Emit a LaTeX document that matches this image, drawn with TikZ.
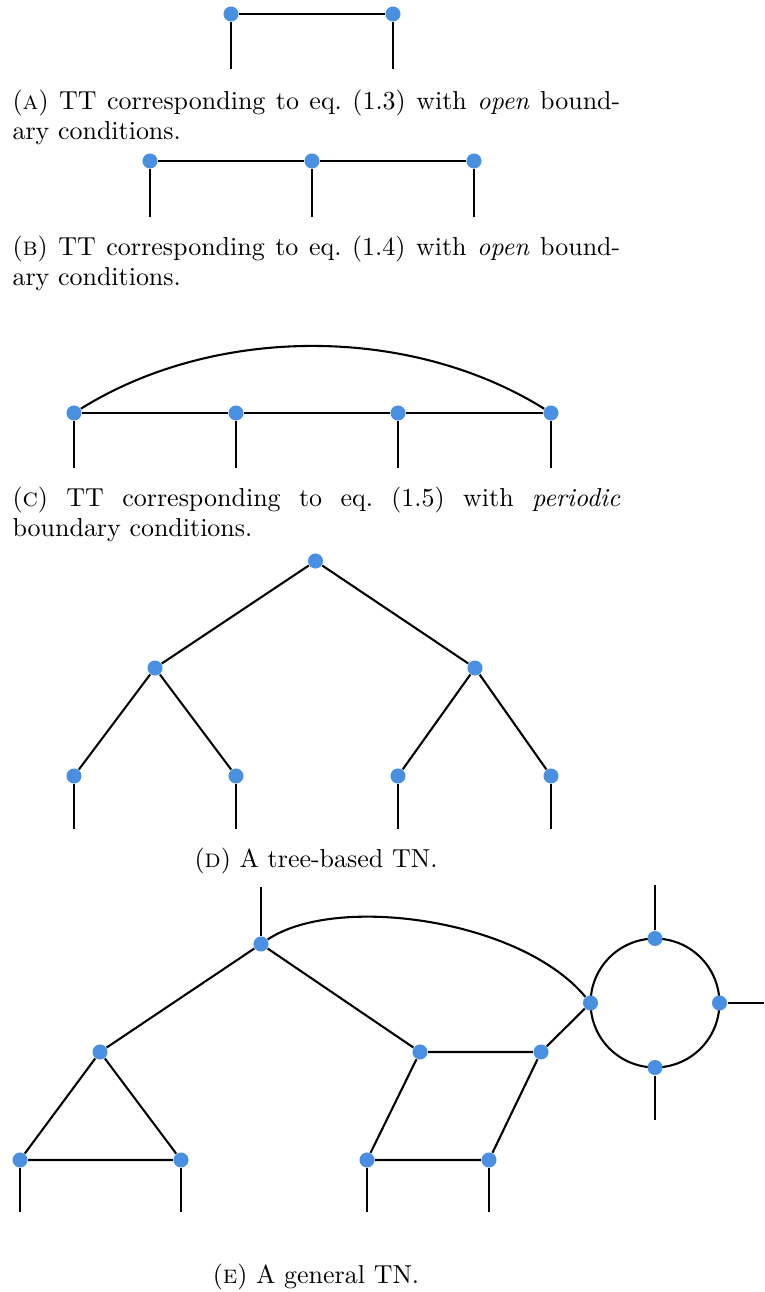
\documentclass[tikz,border=0pt]{standalone}
\usepackage{xcolor}
\definecolor{tnblue}{HTML}{4A90E2}

\begin{document}
\begin{tikzpicture}[
  x=0.385pt,
  y=-0.385pt,
  every node/.style={font=\fontsize{10pt}{11.35pt}\selectfont},
  site/.style={circle, fill=tnblue, inner sep=0pt, minimum size=5.8pt},
  bond/.style={black, line width=0.8pt},
  caption/.style={anchor=base west, inner sep=0pt},
  midcaption/.style={anchor=base, inner sep=0pt}
]
  \useasboundingbox (0,0) rectangle (764,1292);

  % ---- (a) two sites --------------------------------------------------
  \foreach \n/\x in {a1/231, a2/393} {
    \node[site] (\n) at (\x,14) {};
    \coordinate (\n o) at (\x,69);
    \draw[bond] (\n) -- (\n o);
  }
  \draw[bond] (a1) -- (a2);
  \node[caption] (capa) at (12,110)
    {\parbox[t]{234pt}{(\textsc{a}) TT corresponding to eq.~(1.3) with
     \emph{open} bound-\linebreak ary conditions.}};

  % ---- (b) three sites ------------------------------------------------
  \foreach \n/\x in {b1/150, b2/312, b3/474} {
    \node[site] (\n) at (\x,161) {};
    \coordinate (\n o) at (\x,217);
    \draw[bond] (\n) -- (\n o);
  }
  \draw[bond] (b1) -- (b2) -- (b3);
  \node[caption] (capb) at (12,256)
    {\parbox[t]{234pt}{(\textsc{b}) TT corresponding to eq.~(1.4) with
     \emph{open} bound-\linebreak ary conditions.}};

  % ---- (c) periodic ring ----------------------------------------------
  \foreach \n/\x in {c1/74, c2/236, c3/398, c4/551} {
    \node[site] (\n) at (\x,413) {};
    \coordinate (\n o) at (\x,468);
    \draw[bond] (\n) -- (\n o);
  }
  \draw[bond] (c1) -- (c2) -- (c3) -- (c4);
  % closing bond, peak at about y=347
  \draw[bond] (c1) .. controls (215,325) and (410,325) .. (c4);
  \node[caption] (capc) at (12,507)
    {\parbox[t]{234pt}{(\textsc{c}) TT corresponding to eq.~(1.5) with
     \emph{periodic}\linebreak boundary conditions.}};

  % ---- (d) binary tree ------------------------------------------------
  \node[site] (d0) at (315.5,561) {};
  \node[site] (d1) at (155,668) {};
  \node[site] (d2) at (475,668) {};
  \foreach \n/\x in {d3/74, d4/236, d5/398, d6/551} {
    \node[site] (\n) at (\x,776) {};
    \coordinate (\n o) at (\x,829);
    \draw[bond] (\n) -- (\n o);
  }
  \draw[bond] (d3) -- (d1) -- (d0) -- (d2) -- (d6);
  \draw[bond] (d4) -- (d1);
  \draw[bond] (d5) -- (d2);
  \node[midcaption] (capd) at (316,867) {(\textsc{d}) A tree-based TN.};

  % ---- (e) general network --------------------------------------------
  \node[site] (e0) at (261,944) {};
  \node[site] (e1) at (100,1052) {};
  \node[site] (e4) at (420,1052) {};
  \node[site] (e5) at (541,1052) {};
  \foreach \n/\x in {e2/20, e3/181, e6/367, e7/489} {
    \node[site] (\n) at (\x,1160) {};
    \coordinate (\n o) at (\x,1212);
    \draw[bond] (\n) -- (\n o);
  }
  \coordinate (e0o) at (261,887);
  \draw[bond] (e0) -- (e0o);
  \draw[bond] (e2) -- (e1) -- (e0) -- (e4) -- (e5) -- (e7) -- (e6) -- (e4);
  \draw[bond] (e1) -- (e3) -- (e2);
  % ring of four sites
  \coordinate (ring) at (655,1003);
  \draw[bond] (ring) circle[radius=24.8pt];
  \node[site] (r1) at (655,938.5) {};
  \node[site] (r2) at (719.5,1003) {};
  \node[site] (r3) at (655,1067.5) {};
  \node[site] (r4) at (590.5,1003) {};
  \coordinate (r1o) at (655,885);
  \coordinate (r2o) at (764,1003);
  \coordinate (r3o) at (655,1120);
  \foreach \n in {r1, r2, r3}
    \draw[bond] (\n) -- (\n o);
  \draw[bond] (e5) -- (r4);
  % long bond from the top site to the ring
  \draw[bond] (e0) .. controls (335.6,893.7) and (520.3,918.7) .. (r4);
  \node[midcaption] (cape) at (316,1283) {(\textsc{e}) A general TN.};
\end{tikzpicture}
\end{document}
